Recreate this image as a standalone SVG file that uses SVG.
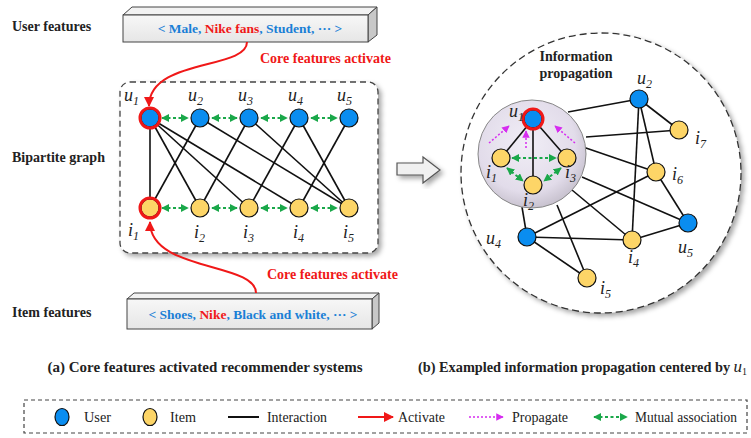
<svg xmlns="http://www.w3.org/2000/svg" width="751" height="438" viewBox="0 0 751 438">
<defs>
<style>
.t{font-family:"Liberation Serif","Times New Roman",serif;}
.b{font-weight:bold;}
.lab{font-family:"Liberation Serif",serif;font-style:italic;font-size:18px;fill:#222;}
.sub{font-size:12px;}
.e{stroke:#111;stroke-width:1.6;fill:none;}
.user{fill:#0a8df0;stroke:#111;stroke-width:1.2;}
.item{fill:#fdd567;stroke:#111;stroke-width:1.2;}
.mut{stroke:#1aa84a;stroke-width:2;stroke-dasharray:3 2.5;fill:none;marker-start:url(#gs);marker-end:url(#ge);}
.prop{stroke:#d62cf0;stroke-width:1.5;stroke-dasharray:2 2;fill:none;marker-end:url(#pe);}
.act{stroke:#f01818;stroke-width:2;fill:none;marker-end:url(#re);}
.blue{fill:#1a7fd6;}
.red{fill:#f01818;}
.lg{font-family:"Liberation Serif","Times New Roman",serif;font-size:15px;fill:#222;}
</style>
<marker id="ge" viewBox="0 0 10 10" refX="9" refY="5" markerWidth="4" markerHeight="4" orient="auto" markerUnits="strokeWidth"><path d="M0,0 L10,5 L0,10 z" fill="#1aa84a"/></marker>
<marker id="gs" viewBox="0 0 10 10" refX="1" refY="5" markerWidth="4" markerHeight="4" orient="auto" markerUnits="strokeWidth"><path d="M10,0 L0,5 L10,10 z" fill="#1aa84a"/></marker>
<marker id="pe" viewBox="0 0 10 10" refX="9" refY="5" markerWidth="5" markerHeight="5" orient="auto" markerUnits="strokeWidth"><path d="M0,0 L10,5 L0,10 z" fill="#d62cf0"/></marker>
<marker id="re" viewBox="0 0 10 10" refX="9" refY="5" markerWidth="5" markerHeight="5" orient="auto" markerUnits="strokeWidth"><path d="M0,0 L10,5 L0,10 z" fill="#f01818"/></marker>
<filter id="sh" x="-10%" y="-10%" width="130%" height="130%"><feDropShadow dx="3" dy="3" stdDeviation="2.5" flood-color="#000" flood-opacity="0.35"/></filter>
<radialGradient id="ig" cx="0.45" cy="0.4" r="0.6"><stop offset="0" stop-color="#f1eef6"/><stop offset="0.75" stop-color="#e2dcea"/><stop offset="1" stop-color="#c9c3d0"/></radialGradient>
<linearGradient id="bx" x1="0" y1="0" x2="0" y2="1"><stop offset="0" stop-color="#f7f7f7"/><stop offset="1" stop-color="#e6e6e6"/></linearGradient>
</defs>
<rect width="751" height="438" fill="#fff"/>

<text class="t b" x="12" y="31" font-size="14" fill="#222">User features</text>
<text class="t b" x="12" y="162" font-size="14" fill="#222">Bipartite graph</text>
<text class="t b" x="12" y="317" font-size="14" fill="#222">Item features</text>

<g id="userbox">
<polygon points="123,15 132,7 377,7 368,15" fill="#f2f2f2" stroke="#444" stroke-width="1"/>
<polygon points="368,15 377,7 377,35 368,42" fill="#c8c8c8" stroke="#444" stroke-width="1"/>
<rect x="123" y="15" width="245" height="27" fill="url(#bx)" stroke="#444" stroke-width="1"/>
<text class="t b" x="250" y="33" font-size="13.5" text-anchor="middle"><tspan class="blue">&lt; Male, </tspan><tspan class="red">Nike fans</tspan><tspan class="blue">, Student, ··· &gt;</tspan></text>
</g>

<g id="itembox">
<polygon points="127,299 134,293 379,293 372,299" fill="#f2f2f2" stroke="#444" stroke-width="1"/>
<polygon points="372,299 379,293 379,323 372,329" fill="#c8c8c8" stroke="#444" stroke-width="1"/>
<rect x="127" y="299" width="245" height="30" fill="url(#bx)" stroke="#444" stroke-width="1"/>
<text class="t b" x="253" y="319" font-size="13.5" text-anchor="middle"><tspan class="blue">&lt; Shoes, </tspan><tspan class="red">Nike</tspan><tspan class="blue">, Black and white, ··· &gt;</tspan></text>
</g>

<text class="t b red" x="260" y="63" font-size="14">Core features activate</text>
<text class="t b red" x="267" y="279" font-size="14">Core features activate</text>

<rect id="bipbox" x="120" y="82" width="258" height="171" rx="10" fill="#fff" stroke="#444" stroke-width="1.3" stroke-dasharray="6 4" filter="url(#sh)"/>

<g id="connectors">
<g class="e">
<line x1="150" y1="118" x2="150" y2="208"/>
<line x1="150" y1="118" x2="200" y2="208"/>
<line x1="150" y1="118" x2="249" y2="208"/>
<line x1="150" y1="118" x2="299" y2="208"/>
<line x1="200" y1="118" x2="150" y2="208"/>
<line x1="200" y1="118" x2="349" y2="208"/>
<line x1="249" y1="118" x2="200" y2="208"/>
<line x1="249" y1="118" x2="349" y2="208"/>
<line x1="299" y1="118" x2="249" y2="208"/>
<line x1="299" y1="118" x2="349" y2="208"/>
<line x1="349" y1="118" x2="299" y2="208"/>
</g>
<g>
<line class="mut" x1="162" y1="118" x2="188" y2="118"/>
<line class="mut" x1="212" y1="118" x2="237" y2="118"/>
<line class="mut" x1="261" y1="118" x2="287" y2="118"/>
<line class="mut" x1="311" y1="118" x2="337" y2="118"/>
<line class="mut" x1="162" y1="208" x2="188" y2="208"/>
<line class="mut" x1="212" y1="208" x2="237" y2="208"/>
<line class="mut" x1="261" y1="208" x2="287" y2="208"/>
<line class="mut" x1="311" y1="208" x2="337" y2="208"/>
</g>
<path class="act" d="M247,42 C247,70 149,58 149,106"/>
<path class="act" d="M256,293 C256,262 150,272 150,222"/>
</g>

<g id="u1"><circle class="user" cx="150" cy="118" r="9"/><circle cx="150" cy="118" r="10" fill="none" stroke="#f01818" stroke-width="3"/><text class="lab" x="124" y="101">u<tspan class="sub" dy="4">1</tspan></text></g>
<g id="u2"><circle class="user" cx="200" cy="118" r="9"/><text class="lab" x="188" y="101">u<tspan class="sub" dy="4">2</tspan></text></g>
<g id="u3"><circle class="user" cx="249" cy="118" r="9"/><text class="lab" x="238" y="101">u<tspan class="sub" dy="4">3</tspan></text></g>
<g id="u4"><circle class="user" cx="299" cy="118" r="9"/><text class="lab" x="288" y="101">u<tspan class="sub" dy="4">4</tspan></text></g>
<g id="u5"><circle class="user" cx="349" cy="118" r="9"/><text class="lab" x="337" y="101">u<tspan class="sub" dy="4">5</tspan></text></g>
<g id="i1"><circle class="item" cx="150" cy="208" r="9"/><circle cx="150" cy="208" r="10" fill="none" stroke="#f01818" stroke-width="3"/><text class="lab" x="128" y="236">i<tspan class="sub" dy="4">1</tspan></text></g>
<g id="i2"><circle class="item" cx="200" cy="208" r="9"/><text class="lab" x="194" y="238">i<tspan class="sub" dy="4">2</tspan></text></g>
<g id="i3"><circle class="item" cx="249" cy="208" r="9"/><text class="lab" x="243" y="238">i<tspan class="sub" dy="4">3</tspan></text></g>
<g id="i4"><circle class="item" cx="299" cy="208" r="9"/><text class="lab" x="293" y="238">i<tspan class="sub" dy="4">4</tspan></text></g>
<g id="i5"><circle class="item" cx="349" cy="208" r="9"/><text class="lab" x="343" y="238">i<tspan class="sub" dy="4">5</tspan></text></g>

<polygon id="bigarrow" points="397,163 423,163 423,157 440,170 423,183 423,175 397,175" fill="#f0f0f0" stroke="#555" stroke-width="1.2" filter="url(#sh)"/>

<circle id="outer" cx="601" cy="173" r="140" fill="#fff" stroke="#333" stroke-width="1.3" stroke-dasharray="7 4" filter="url(#sh)"/>
<text class="t b" x="576" y="61" font-size="14" text-anchor="middle" fill="#222">Information</text>
<text class="t b" x="576" y="78" font-size="14" text-anchor="middle" fill="#222">propagation</text>

<g id="rconnectors" class="e">
<line x1="568" y1="112" x2="639" y2="99"/>
<line x1="586" y1="137" x2="679" y2="130"/>
<line x1="583" y1="147" x2="656" y2="172"/>
<line x1="582" y1="177" x2="688" y2="223"/>
<line x1="572" y1="190" x2="632" y2="240"/>
<line x1="522" y1="207" x2="527" y2="237"/>
<line x1="557" y1="205" x2="587" y2="278"/>
<line x1="639" y1="99" x2="679" y2="130"/>
<line x1="639" y1="99" x2="656" y2="172"/>
<line x1="639" y1="99" x2="632" y2="240"/>
<line x1="656" y1="172" x2="527" y2="237"/>
<line x1="656" y1="172" x2="688" y2="223"/>
<line x1="527" y1="237" x2="632" y2="240"/>
<line x1="527" y1="237" x2="587" y2="278"/>
<line x1="632" y1="240" x2="688" y2="223"/>
</g>

<g id="inner">
<circle cx="532" cy="154" r="54" fill="url(#ig)" stroke="#888" stroke-width="1"/>
<g class="e">
<line x1="533" y1="119" x2="501" y2="158"/>
<line x1="533" y1="119" x2="533" y2="185"/>
<line x1="533" y1="119" x2="567" y2="158"/>
</g>
<line class="prop" x1="489" y1="143" x2="509" y2="126"/>
<line class="prop" x1="526" y1="148" x2="526" y2="131"/>
<line class="prop" x1="575" y1="143" x2="555" y2="126"/>
<line class="mut" x1="512" y1="158" x2="556" y2="158"/>
<line class="mut" x1="507" y1="168" x2="523" y2="181"/>
<line class="mut" x1="561" y1="168" x2="544" y2="181"/>
</g>

<g id="ru1"><circle class="user" cx="533" cy="119" r="9"/><circle cx="533" cy="119" r="10" fill="none" stroke="#f01818" stroke-width="3"/><text class="lab" x="509" y="117">u<tspan class="sub" dy="4">1</tspan></text></g>
<g id="ri1"><circle class="item" cx="501" cy="158" r="9"/><text class="lab" x="486" y="178">i<tspan class="sub" dy="4">1</tspan></text></g>
<g id="ri2"><circle class="item" cx="533" cy="185" r="9"/><text class="lab" x="523" y="206">i<tspan class="sub" dy="4">2</tspan></text></g>
<g id="ri3"><circle class="item" cx="567" cy="158" r="9"/><text class="lab" x="565" y="178">i<tspan class="sub" dy="4">3</tspan></text></g>
<g id="ru2"><circle class="user" cx="639" cy="99" r="9"/><text class="lab" x="637" y="84">u<tspan class="sub" dy="4">2</tspan></text></g>
<g id="ri7"><circle class="item" cx="679" cy="130" r="9"/><text class="lab" x="695" y="144">i<tspan class="sub" dy="4">7</tspan></text></g>
<g id="ri6"><circle class="item" cx="656" cy="172" r="9"/><text class="lab" x="672" y="180">i<tspan class="sub" dy="4">6</tspan></text></g>
<g id="ru5"><circle class="user" cx="688" cy="223" r="9"/><text class="lab" x="678" y="253">u<tspan class="sub" dy="4">5</tspan></text></g>
<g id="ri4"><circle class="item" cx="632" cy="240" r="9"/><text class="lab" x="628" y="263">i<tspan class="sub" dy="4">4</tspan></text></g>
<g id="ru4"><circle class="user" cx="527" cy="237" r="9"/><text class="lab" x="486" y="244">u<tspan class="sub" dy="4">4</tspan></text></g>
<g id="ri5"><circle class="item" cx="587" cy="278" r="9"/><text class="lab" x="600" y="294">i<tspan class="sub" dy="4">5</tspan></text></g>

<text class="t b" x="205" y="372" font-size="15" text-anchor="middle" fill="#222">(a) Core features activated recommender systems</text>
<text class="t b" x="418" y="372" font-size="14.3" fill="#222">(b) Exampled information propagation centered by <tspan font-style="italic" font-weight="normal" font-size="17">u</tspan><tspan font-size="10" font-weight="normal" dy="3">1</tspan></text>

<g id="legend">
<rect x="24" y="400" width="723" height="33" fill="#fff" stroke="#444" stroke-width="1.2" stroke-dasharray="4 3"/>
<ellipse class="user" cx="62" cy="417" rx="7" ry="8.5"/>
<text class="lg" x="84" y="422" textLength="27" lengthAdjust="spacingAndGlyphs">User</text>
<ellipse class="item" cx="150" cy="417" rx="7" ry="8.5"/>
<text class="lg" x="170" y="422" textLength="26" lengthAdjust="spacingAndGlyphs">Item</text>
<line x1="228" y1="417" x2="259" y2="417" stroke="#111" stroke-width="2"/>
<text class="lg" x="267" y="422" textLength="60" lengthAdjust="spacingAndGlyphs">Interaction</text>
<line class="act" x1="358" y1="417" x2="393" y2="417"/>
<text class="lg" x="398" y="422" textLength="47" lengthAdjust="spacingAndGlyphs">Activate</text>
<line class="prop" x1="469" y1="417" x2="503" y2="417" stroke-width="2"/>
<text class="lg" x="512" y="422" textLength="56" lengthAdjust="spacingAndGlyphs">Propagate</text>
<line class="mut" x1="594" y1="417" x2="627" y2="417"/>
<text class="lg" x="635" y="422" textLength="102" lengthAdjust="spacingAndGlyphs">Mutual association</text>
</g>
</svg>
